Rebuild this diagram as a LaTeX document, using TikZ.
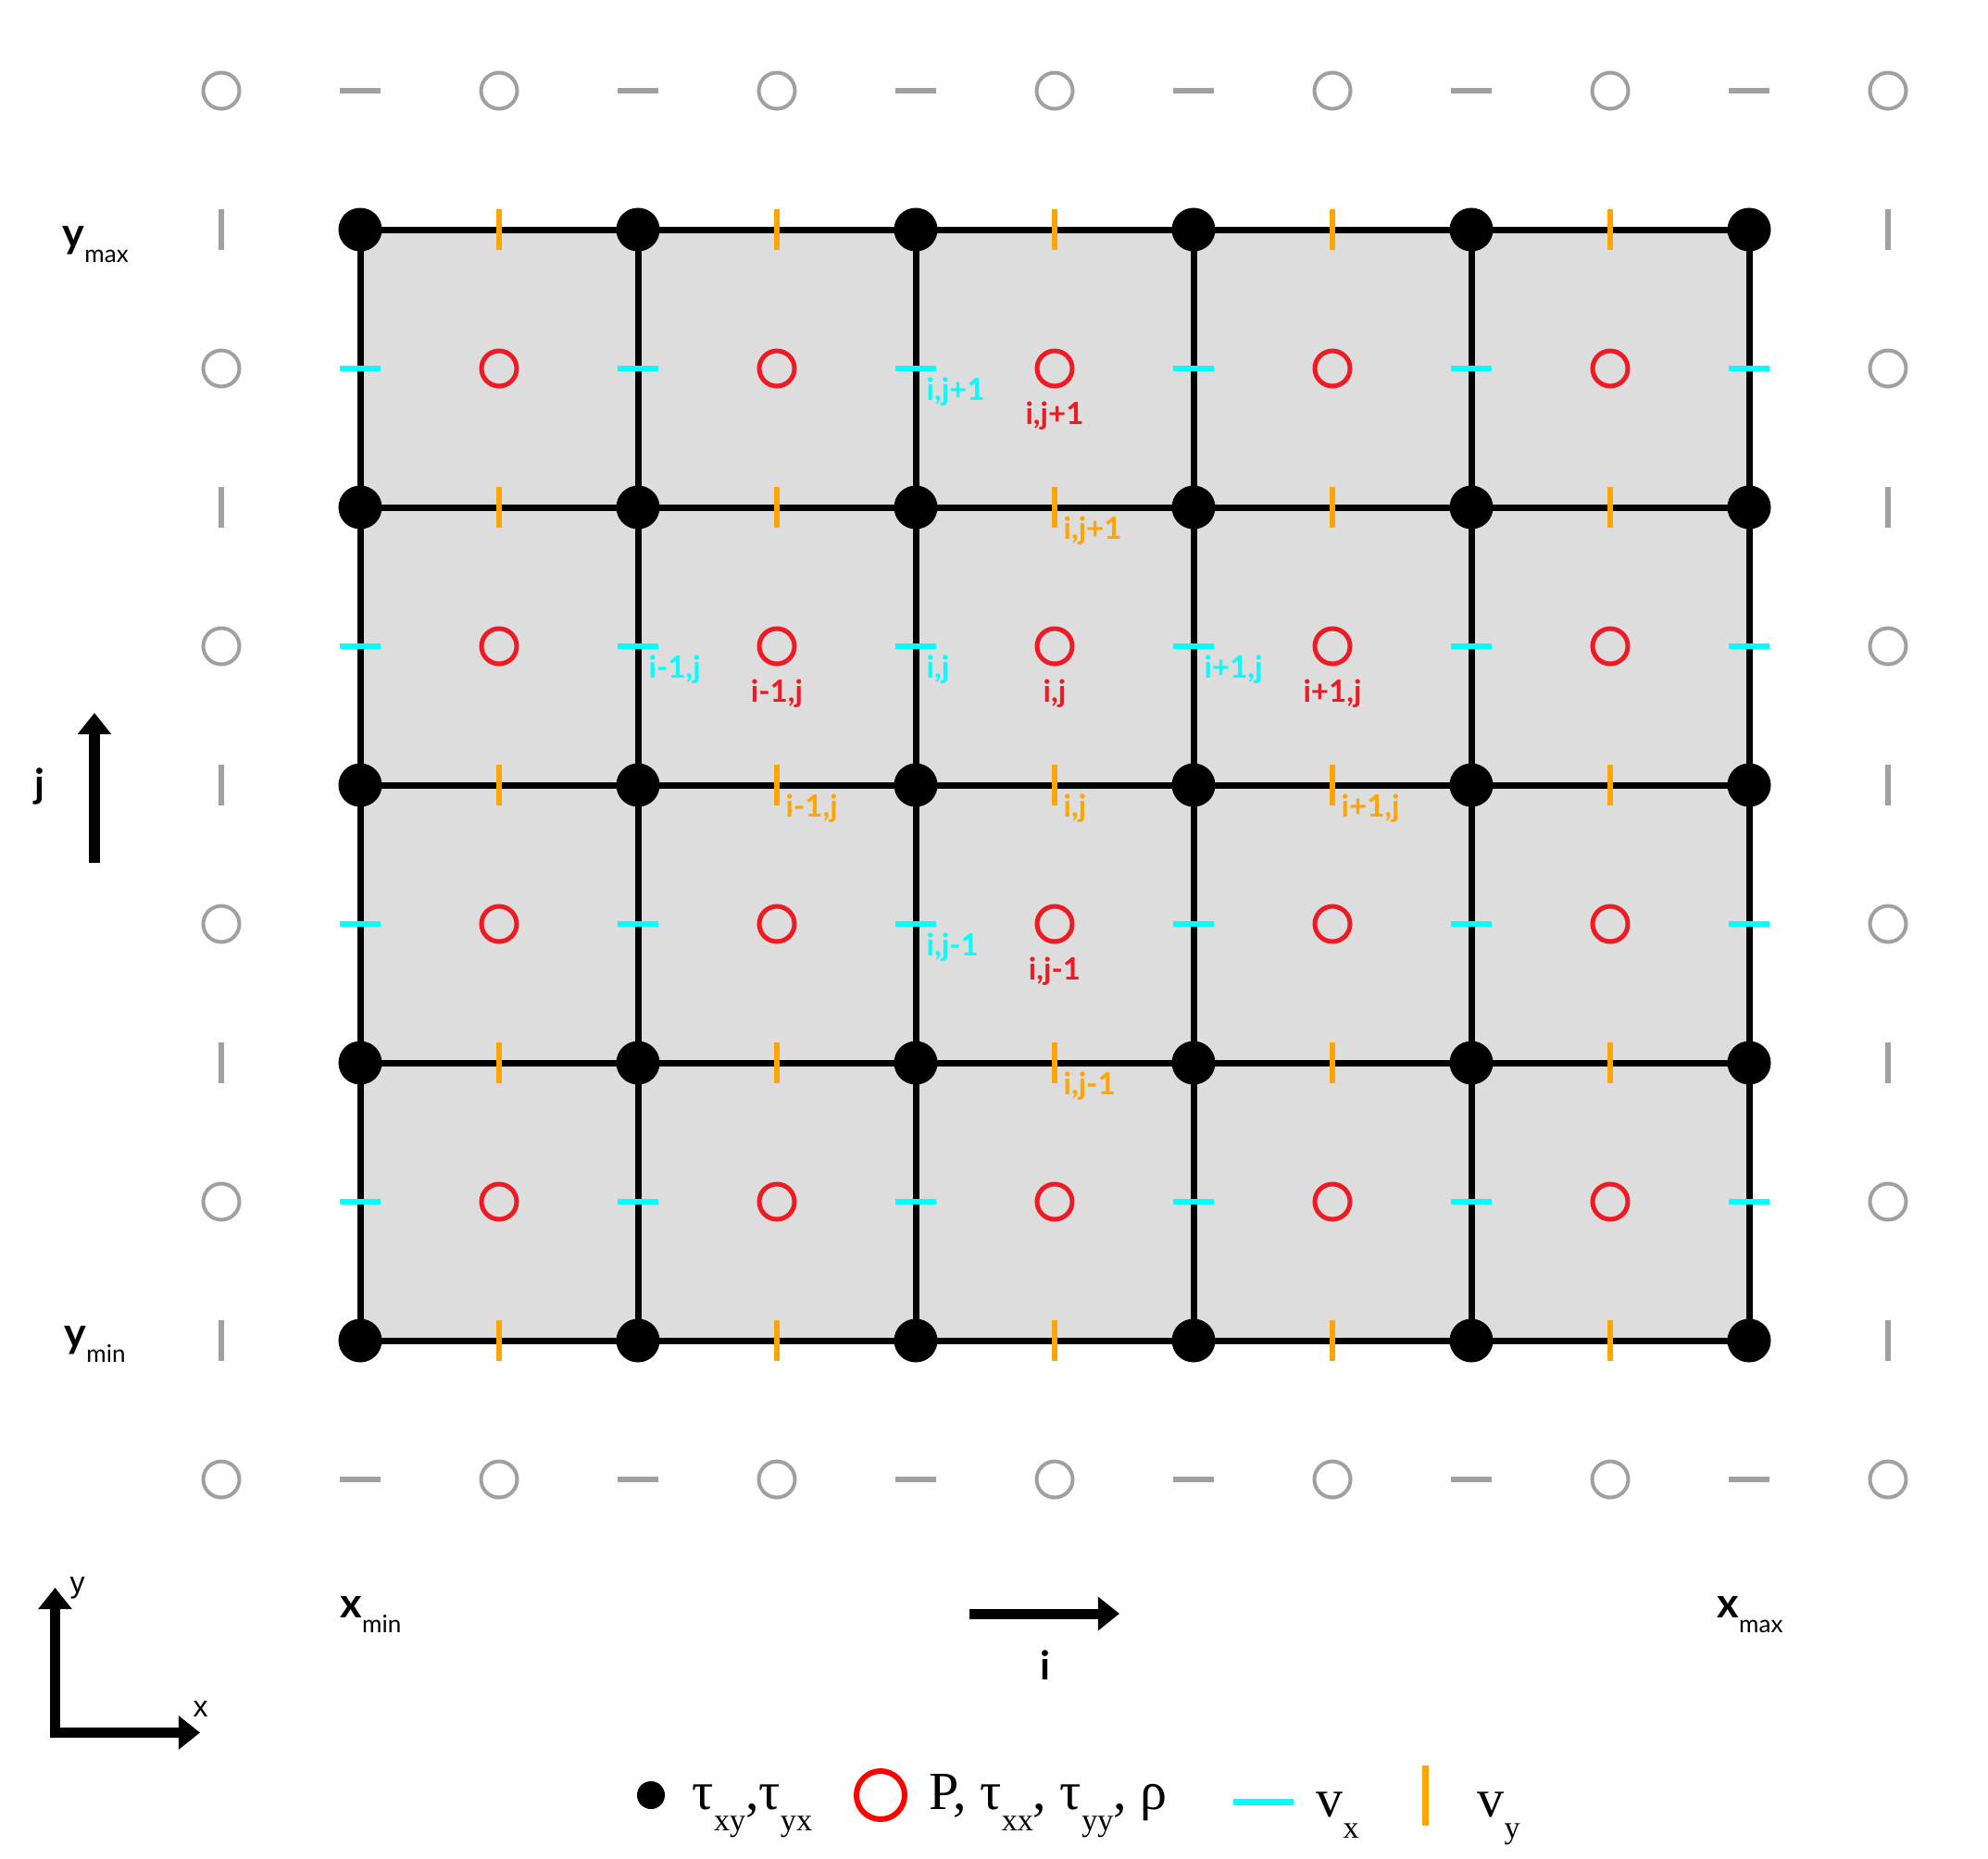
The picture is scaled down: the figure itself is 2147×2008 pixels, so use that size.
\documentclass[tikz,border=0pt]{standalone}
\usepackage{fontspec}
\setmainfont{Liberation Serif}
\newfontfamily\labfont{Lato}
\newfontfamily\axfont{Liberation Sans}
\usetikzlibrary{arrows.meta}
\definecolor{pred}{HTML}{ED1C24}
\definecolor{lred}{HTML}{FF0000}
\definecolor{vxc}{HTML}{00FFFF}
\definecolor{vyc}{HTML}{FFA500}
\definecolor{ghostc}{HTML}{A0A0A0}
\definecolor{cellc}{HTML}{DDDDDD}
\newcommand{\lsb}[1]{\raisebox{-0.4em}{\fontsize{9.7}{11}\selectfont #1}}
\newcommand{\axsub}[1]{\raisebox{-4.8pt}{\mdseries\fontsize{7.4}{8}\selectfont #1}}
\begin{document}
\begin{tikzpicture}[x=0.01cm,y=-0.01cm,
  gline/.style={line width=0.07cm},
  tdot/.style={circle,fill=black,inner sep=0pt,minimum size=0.47cm},
  pcirc/.style={circle,draw=pred,line width=0.05cm,inner sep=0pt,minimum size=0.38cm},
  gcirc/.style={circle,draw=ghostc,line width=0.04cm,inner sep=0pt,minimum size=0.39cm},
  vxbar/.style={rectangle,fill=vxc,inner sep=0pt,minimum width=0.44cm,minimum height=0.057cm},
  vybar/.style={rectangle,fill=vyc,inner sep=0pt,minimum width=0.054cm,minimum height=0.44cm},
  ghbar/.style={rectangle,fill=ghostc,inner sep=0pt,minimum width=0.44cm,minimum height=0.065cm},
  gvbar/.style={rectangle,fill=ghostc,inner sep=0pt,minimum width=0.063cm,minimum height=0.44cm},
  idx/.style={inner sep=0pt,font=\labfont\bfseries\fontsize{9.4}{10}\selectfont},
  cyanlab/.style={idx,text=vxc,anchor=base west},
  redlab/.style={idx,text=pred,anchor=base},
  oranlab/.style={idx,text=vyc,anchor=base west},
  axlab/.style={inner sep=0pt,anchor=base west,font=\labfont\fontsize{12.8}{14}\selectfont},
  dirlab/.style={inner sep=0pt,anchor=base,font=\labfont\bfseries\fontsize{12.2}{13}\selectfont},
  bigarrow/.style={line width=0.11cm,-{Triangle[length=0.23cm,width=0.35cm]}},
  legtext/.style={inner sep=0pt,anchor=base west,font=\fontsize{16.5}{18}\selectfont},
  cornlab/.style={inner sep=0pt,anchor=base west,font=\axfont\fontsize{9.1}{10}\selectfont},
]
\useasboundingbox (0,0) rectangle (2147,2008);

% grid coordinates
\foreach \i in {0,...,5}{
  \foreach \j in {0,...,4}{
    \coordinate (c-\i-\j) at ({389+300*\i},{248+300*\j});
  }
}
\fill[cellc] (c-0-0) rectangle (c-5-4);
\foreach \j in {0,...,4}{ \draw[gline] (c-0-\j) -- (c-5-\j); }
\foreach \i in {0,...,5}{ \draw[gline] (c-\i-0) -- (c-\i-4); }

% vy ticks on horizontal edges
\foreach \i in {0,...,4}{
  \foreach \j in {0,...,4}{
    \node[vybar] (vy-\i-\j) at ({539+300*\i},{248+300*\j}) {};
  }
}
% vx dashes on vertical edges
\foreach \i in {0,...,5}{
  \foreach \j in {0,...,3}{
    \node[vxbar] (vx-\i-\j) at ({389+300*\i},{398+300*\j}) {};
  }
}
% pressure circles
\foreach \i in {0,...,4}{
  \foreach \j in {0,...,3}{
    \node[pcirc] (p-\i-\j) at ({539+300*\i},{398+300*\j}) {};
  }
}
% shear stress nodes
\foreach \i in {0,...,5}{
  \foreach \j in {0,...,4}{
    \node[tdot] (t-\i-\j) at (c-\i-\j) {};
  }
}

% ghost points
\foreach \k in {0,...,6}{
  \node[gcirc] (gt-\k) at ({239+300*\k},98) {};
  \node[gcirc] (gb-\k) at ({239+300*\k},1598) {};
}
\foreach \k in {0,...,5}{
  \node[ghbar] (ght-\k) at ({389+300*\k},98) {};
  \node[ghbar] (ghb-\k) at ({389+300*\k},1598) {};
}
\foreach \k in {0,...,3}{
  \node[gcirc] (gl-\k) at (239,{398+300*\k}) {};
  \node[gcirc] (gr-\k) at (2039,{398+300*\k}) {};
}
\foreach \k in {0,...,4}{
  \node[gvbar] (gvl-\k) at (239,{248+300*\k}) {};
  \node[gvbar] (gvr-\k) at (2039,{248+300*\k}) {};
}

% cyan labels
\node[cyanlab] (cl1) at ([shift={(11,34)}]vx-2-0.center) {i,j+1};
\node[cyanlab] (cl2) at ([shift={(11,34)}]vx-1-1.center) {i-1,j};
\node[cyanlab] (cl3) at ([shift={(11,34)}]vx-2-1.center) {i,j};
\node[cyanlab] (cl4) at ([shift={(11,34)}]vx-3-1.center) {i+1,j};
\node[cyanlab] (cl5) at ([shift={(11,34)}]vx-2-2.center) {i,j-1};
% red labels
\node[redlab] (rl1) at ([shift={(0,60)}]p-2-0.center) {i,j+1};
\node[redlab] (rl2) at ([shift={(0,60)}]p-1-1.center) {i-1,j};
\node[redlab] (rl3) at ([shift={(0,60)}]p-2-1.center) {i,j};
\node[redlab] (rl4) at ([shift={(0,60)}]p-3-1.center) {i+1,j};
\node[redlab] (rl5) at ([shift={(0,60)}]p-2-2.center) {i,j-1};
% orange labels
\node[oranlab] (ol1) at ([shift={(9,34)}]vy-2-1.center) {i,j+1};
\node[oranlab] (ol2) at ([shift={(9,34)}]vy-1-2.center) {i-1,j};
\node[oranlab] (ol3) at ([shift={(9,34)}]vy-2-2.center) {i,j};
\node[oranlab] (ol4) at ([shift={(9,34)}]vy-3-2.center) {i+1,j};
\node[oranlab] (ol5) at ([shift={(9,34)}]vy-2-3.center) {i,j-1};

% axis limit labels
\node[axlab] (ymax) at (67,267) {\bfseries y\axsub{max}};
\node[axlab] (ymin) at (69,1455) {\bfseries y\axsub{min}};
\node[axlab] (xmin) at (367,1747) {\bfseries x\axsub{min}};
\node[axlab] (xmax) at (1854,1747) {\bfseries x\axsub{max}};

% index direction arrows
\coordinate (ja) at (102,932);
\coordinate (jb) at (102,770);
\draw[bigarrow] (ja) -- (jb);
\node[dirlab] (jl) at (43,861) {j};
\coordinate (ia) at (1047,1743);
\coordinate (ib) at (1209,1743);
\draw[bigarrow] (ia) -- (ib);
\node[dirlab] (il) at (1129,1814) {i};

% corner axes
\coordinate (oy) at (59.5,1715);
\coordinate (oo) at (59.5,1871.5);
\coordinate (ox) at (216,1871.5);
\draw[line width=0.11cm,line join=miter,{Triangle[length=0.23cm,width=0.35cm]}-{Triangle[length=0.23cm,width=0.35cm]}] (oy) -- (oo) -- (ox);
\node[cornlab] (ly) at (75,1720) {y};
\node[cornlab] (lx) at (208,1854) {x};

% legend
\node[circle,fill=black,inner sep=0pt,minimum size=0.30cm] (legt) at (703,1939) {};
\node[legtext] (legtt) at (747,1954) {τ\lsb{xy},τ\lsb{yx}};
\node[circle,draw=lred,line width=0.06cm,inner sep=0pt,minimum size=0.52cm] (legp) at (951,1939) {};
\node[legtext] (legpt) at (1003,1954) {P, τ\lsb{xx}, τ\lsb{yy}, ρ};
\coordinate (lvxa) at (1332,1946);
\coordinate (lvxb) at (1397,1946);
\draw[vxc,line width=0.07cm] (lvxa) -- (lvxb);
\node[legtext] (legvx) at (1421,1962) {v\lsb{x}};
\coordinate (lvya) at (1539,1907);
\coordinate (lvyb) at (1539,1972);
\draw[vyc,line width=0.07cm] (lvya) -- (lvyb);
\node[legtext] (legvy) at (1595,1962) {v\lsb{y}};
\end{tikzpicture}
\end{document}
